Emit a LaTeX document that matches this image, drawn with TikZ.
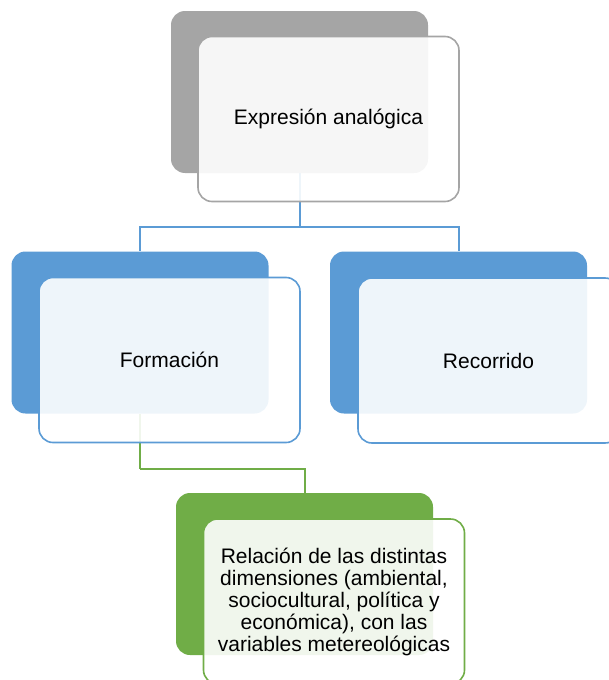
\documentclass[tikz,border=0pt]{standalone}
\usepackage{fontspec}
\setmainfont{Liberation Sans}
\definecolor{cgray}{HTML}{A5A5A5}
\definecolor{cblue}{HTML}{5B9BD5}
\definecolor{cgreen}{HTML}{70AD47}
\begin{document}
\begin{tikzpicture}[x=1pt,y=-1pt,
  backbox/.style={rectangle, rounded corners=14pt, fill=#1, draw=none, minimum width=257pt, minimum height=162pt, inner sep=0pt},
  frontbox/.style={rectangle, rounded corners=14pt, fill=white, fill opacity=0.9, text opacity=1, draw=#1, line width=1.6pt, minimum width=261pt, minimum height=165pt, inner sep=0pt, font=\fontsize{21}{22}\selectfont, align=center},
  conn/.style={draw=#1, line width=2pt}]
\useasboundingbox (0,0) rectangle (608,680);
% back boxes
\node[backbox=cgray] (topback) at (299.5,92) {};
\node[backbox=cblue] (formback) at (140,332.5) {};
\node[backbox=cblue] (recback) at (458.5,332.5) {};
\node[backbox=cgreen] (greenback) at (304.5,574) {};
% connectors
\draw[conn=cblue] (topback.south) -- ++(0,54) coordinate (j1);
\draw[conn=cblue] (j1) -| (formback.north);
\draw[conn=cblue] (j1) -| (recback.north);
\draw[conn=cgreen] (formback.south) -- ++(0,55) coordinate (j2);
\draw[conn=cgreen] (j2) -| (greenback.north);
% front boxes
\node[frontbox=cgray] (topfront) at (328.5,119) {Expresión analógica};
\node[frontbox=cblue] (formfront) at (169.5,360) {Formación};
\node[frontbox=cblue] (recfront) at (488.5,360.5) {Recorrido};
\node[frontbox=cgreen] (greenfront) at (334,601.5) {Relación de las distintas\\dimensiones (ambiental,\\sociocultural, política y\\económica), con las\\variables metereológicas};
\end{tikzpicture}
\end{document}
